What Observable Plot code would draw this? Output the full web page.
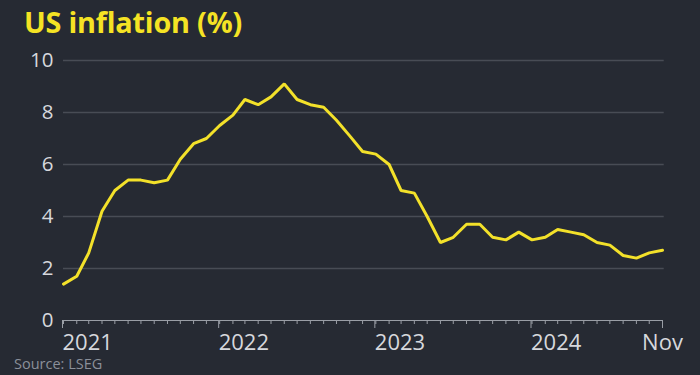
<!DOCTYPE html>
<html>
<head>
<meta charset="utf-8">
<script src="https://cdn.jsdelivr.net/npm/d3@7"></script>
<script src="https://cdn.jsdelivr.net/npm/@observablehq/plot@0.6"></script>
<style>
  html, body { margin: 0; padding: 0; background: #262a33; overflow: hidden; }
  body { width: 700px; height: 375px; font-family: "Open Sans", sans-serif; position: relative; }
  #title { position: absolute; left: 24px; top: 0; color: #f5e324; font-weight: 700; font-size: 28.8px; line-height: 40px; padding-top: 2px; letter-spacing: -0.2px; white-space: nowrap; }
  #chart { position: absolute; left: 0; top: 44px; }
  #source { position: absolute; left: 14px; top: 355px; color: #8b909a; font-size: 14.5px; line-height: 18px; white-space: nowrap; }
  svg { display: block; }
</style>
</head>
<body>
<div id="title">US inflation (%)</div>
<div id="chart"></div>
<div id="source">Source: LSEG</div>
<script>
const startYear = 2021, startMonth = 0;
const inflation = [
  1.4, 1.7, 2.6, 4.2, 5.0, 5.4, 5.4, 5.3, 5.4, 6.2, 6.8, 7.0,
  7.5, 7.9, 8.5, 8.3, 8.6, 9.1, 8.5, 8.3, 8.2, 7.7, 7.1, 6.5,
  6.4, 6.0, 5.0, 4.9, 4.0, 3.0, 3.2, 3.7, 3.7, 3.2, 3.1, 3.4,
  3.1, 3.2, 3.5, 3.4, 3.3, 3.0, 2.9, 2.5, 2.4, 2.6, 2.7
];
const yTicks = [0, 2, 4, 6, 8, 10];
const xTickLabels = ["2021", "2022", "2023", "2024", "Nov"];

const data = inflation.map((v, i) => ({date: new Date(Date.UTC(startYear, startMonth + i, 1)), value: v}));
const first = data[0].date, last = data[data.length - 1].date;
const months = d3.utcMonth.range(first, d3.utcMonth.offset(last, 1));
const yearDates = xTickLabels.slice(0, 4).map(y => new Date(Date.UTC(+y, 0, 1)));

const plot = Plot.plot({
  width: 700,
  height: 311,
  marginTop: 16,
  marginBottom: 35,
  marginLeft: 63,
  marginRight: 38,
  style: {background: "#262a33", fontFamily: "Open Sans, sans-serif", color: "#d6d8dd", overflow: "visible"},
  x: {type: "utc", domain: [first, last]},
  y: {domain: [0, 10]},
  marks: [
    Plot.ruleY(yTicks.filter(d => d > 0), {stroke: "#484c55", strokeWidth: 1.3, x1: first, x2: d3.utcDay.offset(last, 4)}),
    Plot.ruleY([0], {stroke: "#9a9ea6", strokeWidth: 1}),
    Plot.axisY(yTicks, {tickSize: 0, tickPadding: 10, fontSize: 20.5, fill: "#d6d8dd", label: null}),
    Plot.axisX(months, {tickSize: 4, tickFormat: () => "", stroke: "#9a9ea6", label: null}),
    Plot.axisX(yearDates, {tickSize: 8, tickFormat: (d, i) => xTickLabels[i], textAnchor: "start", dx: -1, tickPadding: 6, fontSize: 22, fill: "#d6d8dd", stroke: "#9a9ea6", label: null}),
    Plot.axisX([last], {tickSize: 8, tickFormat: () => xTickLabels[4], tickPadding: 6, fontSize: 22, fill: "#d6d8dd", stroke: "#9a9ea6", label: null}),
    Plot.line(data, {x: "date", y: "value", stroke: "#f3e12a", strokeWidth: 3, strokeLinejoin: "miter"})
  ]
});
document.getElementById("chart").appendChild(plot);
</script>
</body>
</html>
